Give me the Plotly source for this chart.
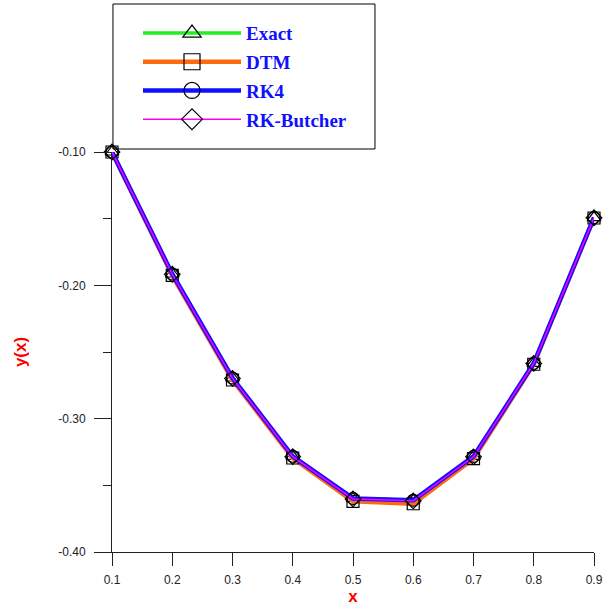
import plotly.graph_objects as go

x_vals = [0.1, 0.2, 0.3, 0.4, 0.5, 0.6, 0.7, 0.8, 0.9]
exact = [-0.1000, -0.1915, -0.2695, -0.3282, -0.3598, -0.3612, -0.3283, -0.2585, -0.1492]
dtm = [-0.1000, -0.1925, -0.2710, -0.3295, -0.3620, -0.3638, -0.3300, -0.2592, -0.1495]
rk4 = [-0.1000, -0.1915, -0.2695, -0.3282, -0.3598, -0.3612, -0.3283, -0.2585, -0.1492]
rk_butcher = [-0.1000, -0.1917, -0.2698, -0.3285, -0.3602, -0.3616, -0.3286, -0.2586, -0.1493]

series = [
    ("Exact", exact, "#22ee22", 3.5, "triangle-up-open"),
    ("DTM", dtm, "#ff6a10", 4.5, "square-open"),
    ("RK4", rk4, "#1010ff", 4.5, "circle-open"),
    ("RK-Butcher", rk_butcher, "#ff00ff", 1.5, "diamond-open"),
]

y_ticks = [-0.10, -0.20, -0.30, -0.40]
y_minor = [-0.15, -0.25, -0.35]
x_ticks = [0.1, 0.2, 0.3, 0.4, 0.5, 0.6, 0.7, 0.8, 0.9]

fig = go.Figure()
for i, (name, ys, color, w, sym) in enumerate(series):
    fig.add_trace(go.Scatter(
        x=x_vals, y=ys, name=name, mode="lines+markers",
        legendgroup=f"g{i}", showlegend=False,
        line=dict(color=color, width=w),
        marker=dict(symbol=sym, size=12, color="black", line=dict(color="black", width=1.2)),
        cliponaxis=False,
    ))
    # legend-only entry with a larger key symbol
    fig.add_trace(go.Scatter(
        x=[None], y=[None], name=name, mode="lines+markers",
        legendgroup=f"g{i}", showlegend=True,
        line=dict(color=color, width=w),
        marker=dict(symbol=sym, size=17, color="black", line=dict(color="black", width=1.2)),
    ))

# legend frame
fig.add_shape(type="rect", xref="paper", yref="paper",
              x0=0.002, x1=0.5456, y0=1.0075, y1=1.37,
              line=dict(color="black", width=1), fillcolor="white", layer="below")

fig.update_layout(
    width=605, height=606,
    margin=dict(l=112, r=11, t=152, b=54, autoexpand=False),
    paper_bgcolor="white", plot_bgcolor="rgba(0,0,0,0)",
    showlegend=True,
    legend=dict(
        x=0.0, y=1.3445, xanchor="left", yanchor="top",
        bgcolor="rgba(0,0,0,0)", borderwidth=0,
        font=dict(family="Liberation Serif", size=19, color="#1010ff", weight="bold"),
        itemwidth=98, indentation=26,
        tracegroupgap=1,
    ),
    xaxis=dict(
        range=[0.1, 0.9], tickvals=x_ticks, ticktext=[f"{v:.1f}" for v in x_ticks],
        showgrid=False, zeroline=False, showline=True, linecolor="#222", linewidth=1,
        ticks="outside", ticklen=13, tickcolor="#222", ticklabelstandoff=4, automargin=False,
        tickfont=dict(family="Liberation Sans", size=12, color="#222"),
        title=dict(text="x", font=dict(family="Liberation Sans", size=17, color="red", weight="bold"), standoff=4),
    ),
    yaxis=dict(
        range=[-0.40, -0.10], tickvals=y_ticks, ticktext=[f"{v:.2f}" for v in y_ticks],
        showgrid=False, zeroline=False, showline=True, linecolor="#222", linewidth=1,
        ticks="outside", ticklen=17, tickcolor="#222", ticklabelstandoff=6, automargin=False,
        minor=dict(tickvals=y_minor, ticklen=8, ticks="outside", tickcolor="#222", showgrid=False),
        tickfont=dict(family="Liberation Sans", size=12, color="#222"),
        title=dict(text="y(x)", font=dict(family="Liberation Sans", size=17, color="red", weight="bold"), standoff=27),
    ),
)

fig.write_html("out.html", config={"displayModeBar": False},
               post_script="document.body.style.margin='0px';document.body.style.overflow='hidden';")
